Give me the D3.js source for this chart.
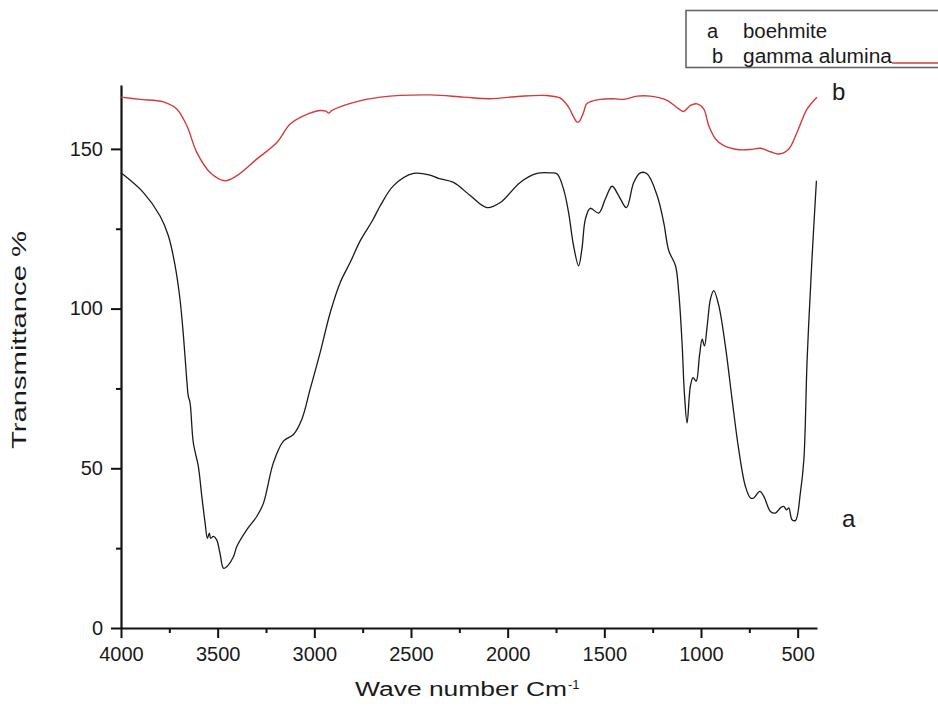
<!DOCTYPE html>
<html><head><meta charset="utf-8">
<script src="https://cdn.jsdelivr.net/npm/d3@7"></script>
<style>
body{margin:0;background:#fff}
svg{display:block}
text{font-family:"Liberation Sans",Arial,sans-serif;fill:#1a1a1a}
</style>
</head><body>
<svg id="chart" width="938" height="708"></svg>
<script>
// ---- data ----
const boehmiteWavenumber = [4000,3885,3798,3755,3720,3695,3677,3660,3652,3643,3626,3600,3582,3565,3553,3543,3536,3522,3505,3488,3470,3453,3418,3401,3349,3298,3263,3212,3160,3108,3065,3022,2970,2918,2866,2815,2763,2700,2659,2590,2487,2401,2358,2280,2194,2107,2038,1935,1848,1780,1745,1711,1685,1659,1633,1616,1598,1573,1529,1495,1460,1426,1386,1348,1314,1279,1227,1193,1167,1132,1115,1098,1086,1072,1055,1041,1025,1008,994,982,968,951,934,908,874,839,805,770,744,727,696,675,641,615,589,572,558,546,529,511,486,468,451,426,403];
const boehmiteTransmittance = [142.5,136.4,129,122.8,113.4,103,91.4,77.8,72.6,70.6,58,50.6,41.2,32.9,28.1,29.7,28.1,28.7,27.6,23.4,18.7,19.2,22.4,25.5,30.8,34.9,39.1,51.7,58.5,60.6,65.3,74.7,86.2,98.7,108.2,114.4,121.2,127.5,132.2,138.5,142.3,141.8,140.8,139.5,135.4,131.6,133.2,139.5,142.3,142.5,142.2,137.4,130.1,119.6,113.4,118.6,128,131.4,129.9,134.3,138.3,135.4,131.6,139.5,142.5,142.2,135.4,127,118.2,113.4,105,89.3,73.6,64.2,75.7,78.4,77.3,85.2,90.4,88.3,94.6,103,105.6,100.9,88.3,71.5,55.9,44.3,40.7,40.7,42.8,41.2,36.5,36,37.6,38.1,37,37.6,33.9,33.7,42.3,52.7,84.1,115.5,140];

const aluminaWavenumber = [4000,3902,3781,3712,3660,3608,3539,3462,3401,3298,3194,3125,3050,2970,2940,2925,2910,2800,2659,2401,2228,2090,1935,1797,1728,1685,1659,1641,1630,1607,1590,1521,1452,1400,1331,1262,1176,1115,1090,1055,1020,986,960,925,882,813,744,692,641,598,546,503,451,400];
const aluminaTransmittance = [166.2,165.5,164.7,162.5,157.3,148.9,142.6,140,141.6,146.8,152,157.8,160.5,162,161.8,161.2,162,164.5,166.2,166.9,166.2,165.7,166.5,166.7,165.9,163.1,160,158.4,158.6,161.5,164.2,165.5,165.7,165.5,166.5,166.5,165.2,162.5,161.7,163.6,164.1,162.5,157.3,153.1,151,149.8,149.8,150.2,149.1,148.4,150,155.2,162.5,166.2];

const xTickValues = [4000,3500,3000,2500,2000,1500,1000,500];
const xMinorTickValues = [3750,3250,2750,2250,1750,1250,750];
const yTickValues = [0,50,100,150];
const yMinorTickValues = [25,75,125];
const seriesKeys = ["a","b"];
const seriesNames = ["boehmite","gamma alumina"];
const xTitle = "Wave number Cm";
const xTitleSup = "-1";
const yTitle = "Transmittance %";

// ---- drawing ----
const svg = d3.select("#chart");
const x = d3.scaleLinear().domain([4000,400]).range([121,817]);
const y = d3.scaleLinear().domain([0,170]).range([628,85]);

const line = d3.line()
  .x(d => x(d[0])).y(d => y(d[1]))
  .curve(d3.curveCatmullRom.alpha(0.5));

// x axis
const gx = svg.append("g").attr("transform","translate(0,628)");
gx.call(d3.axisBottom(x).tickValues(xTickValues).tickSize(10).tickSizeOuter(0).tickPadding(9).tickFormat(d3.format("d")));
const gxm = svg.append("g").attr("transform","translate(0,628)");
gxm.call(d3.axisBottom(x).tickValues(xMinorTickValues).tickSize(5).tickSizeOuter(0).tickFormat(""));
gxm.select(".domain").remove();

// y axis
const gy = svg.append("g").attr("transform","translate(121,0)");
gy.call(d3.axisLeft(y).tickValues(yTickValues).tickSize(10).tickSizeOuter(0).tickPadding(8));
const gym = svg.append("g").attr("transform","translate(121,0)");
gym.call(d3.axisLeft(y).tickValues(yMinorTickValues).tickSize(5).tickSizeOuter(0).tickFormat(""));
gym.select(".domain").remove();

svg.selectAll(".domain").attr("stroke","#111").attr("stroke-width",2.2);
svg.selectAll(".tick line").attr("stroke","#111").attr("stroke-width",2);
svg.selectAll(".tick text").attr("font-size",20).attr("font-family","'Liberation Sans',Arial,sans-serif").attr("fill","#222");

// series lines
svg.append("path")
  .datum(d3.zip(aluminaWavenumber, aluminaTransmittance))
  .attr("fill","none").attr("stroke","#d43a3a").attr("stroke-width",1.4)
  .attr("d", line);
svg.append("path")
  .datum(d3.zip(boehmiteWavenumber, boehmiteTransmittance))
  .attr("fill","none").attr("stroke","#1a1a1a").attr("stroke-width",1.3)
  .attr("d", line);

// curve labels
svg.append("text").attr("x",842).attr("y",527).attr("font-size",24).text(seriesKeys[0]);
svg.append("text").attr("x",832).attr("y",100).attr("font-size",24).text(seriesKeys[1]);

// axis titles
svg.append("text").attr("x",355).attr("y",696).attr("font-size",20)
  .attr("textLength",212).attr("lengthAdjust","spacingAndGlyphs").text(xTitle);
svg.append("text").attr("x",568).attr("y",689).attr("font-size",13).text(xTitleSup);
svg.append("text").attr("transform","translate(26,340) rotate(-90)")
  .attr("text-anchor","middle").attr("font-size",20)
  .attr("textLength",218).attr("lengthAdjust","spacingAndGlyphs").text(yTitle);

// legend
svg.append("rect").attr("x",686).attr("y",10.5).attr("width",270).attr("height",57)
  .attr("fill","none").attr("stroke","#666").attr("stroke-width",1.6);
const legY = [38,63];
const keyX = [707,712];
seriesKeys.forEach((k,i) => {
  svg.append("text").attr("x",keyX[i]).attr("y",legY[i]).attr("font-size",20).text(k);
});
svg.append("text").attr("x",743).attr("y",legY[0]).attr("font-size",20)
  .attr("textLength",84).attr("lengthAdjust","spacingAndGlyphs").text(seriesNames[0]);
svg.append("text").attr("x",743).attr("y",legY[1]).attr("font-size",20)
  .attr("textLength",149).attr("lengthAdjust","spacingAndGlyphs").text(seriesNames[1]);
svg.append("line").attr("x1",892).attr("x2",938).attr("y1",63).attr("y2",63)
  .attr("stroke","#d43a3a").attr("stroke-width",1.4);
</script>
</body></html>
